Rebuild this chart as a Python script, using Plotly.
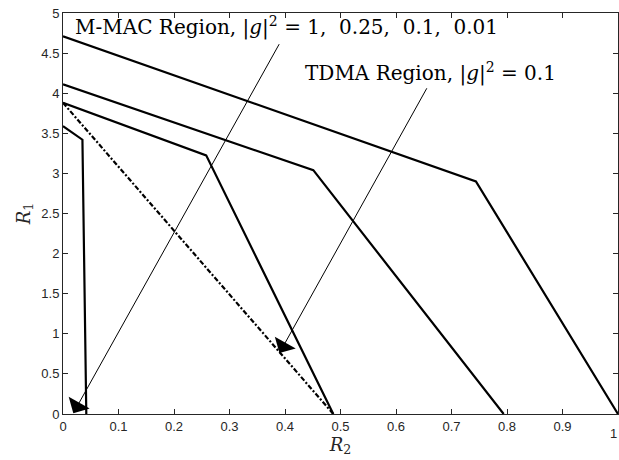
import plotly.graph_objects as go

# Achievable rate regions (R2, R1) for different channel gains |g|^2
r2_g1 = [0.0, 0.744, 1.0]
r1_g1 = [4.71, 2.90, 0.0]

r2_g025 = [0.0, 0.451, 0.794]
r1_g025 = [4.11, 3.04, 0.0]

r2_g01 = [0.0, 0.258, 0.487]
r1_g01 = [3.88, 3.225, 0.0]

r2_g001 = [0.0, 0.035, 0.042]
r1_g001 = [3.59, 3.42, 0.0]

# TDMA (time-sharing) region for |g|^2 = 0.1
r2_tdma = [0.0, 0.487]
r1_tdma = [3.88, 0.0]

x_ticks = [0, 0.1, 0.2, 0.3, 0.4, 0.5, 0.6, 0.7, 0.8, 0.9, 1]
x_tick_text = ["0", "0.1", "0.2", "0.3", "0.4", "0.5", "0.6", "0.7", "0.8", "0.9", "1"]
y_ticks = [0, 0.5, 1, 1.5, 2, 2.5, 3, 3.5, 4, 4.5, 5]
y_tick_text = ["0", "0.5", "1", "1.5", "2", "2.5", "3", "3.5", "4", "4.5", "5"]

fig = go.Figure()

solid = dict(color="black", width=2.2)
for xs, ys in [(r2_g1, r1_g1), (r2_g025, r1_g025), (r2_g01, r1_g01), (r2_g001, r1_g001)]:
    fig.add_trace(go.Scatter(x=xs, y=ys, mode="lines", line=solid, showlegend=False,
                             hoverinfo="skip"))

fig.add_trace(go.Scatter(x=r2_tdma, y=r1_tdma, mode="lines",
                         line=dict(color="black", width=2.2, dash="5px,2px,2px,2px"),
                         showlegend=False, hoverinfo="skip"))

serif = "DejaVu Serif"
ax_color = "#262626"
tick_font = dict(family="Liberation Sans, Arial", size=13, color=ax_color)

annotations = [
    dict(x=0.0175, y=4.83, xref="x", yref="y", xanchor="left", yanchor="middle",
         text="M-MAC Region, |<i>g</i>|<sup>2</sup> = 1,  0.25,  0.1,  0.01",
         showarrow=False, font=dict(family=serif, size=20, color="black")),
    dict(x=0.432, y=4.26, xref="x", yref="y", xanchor="left", yanchor="middle",
         text="TDMA Region, |<i>g</i>|<sup>2</sup> = 0.1",
         showarrow=False, font=dict(family=serif, size=20, color="black")),
    dict(x=0.0186, y=0.01, ax=0.391, ay=4.63, xref="x", yref="y", axref="x", ayref="y",
         text="", showarrow=True, arrowhead=1, arrowsize=4, arrowwidth=1,
         arrowcolor="black"),
    dict(x=0.39, y=0.76, ax=0.657, ay=4.08, xref="x", yref="y", axref="x", ayref="y",
         text="", showarrow=True, arrowhead=1, arrowsize=4, arrowwidth=1,
         arrowcolor="black"),
    # tick label at the right end of the x axis, flush with the page edge
    dict(x=1, y=0, xref="x", yref="paper", yanchor="top", xanchor="right",
         yshift=-10, xshift=1, text="1", showarrow=False, font=tick_font),
]

fig.update_layout(
    width=619, height=460,
    margin=dict(l=63, r=1, t=13, b=46),
    paper_bgcolor="white", plot_bgcolor="white",
    annotations=annotations,
    font=dict(family="Liberation Sans, Arial", size=13, color=ax_color),
)

axis_common = dict(
    showline=True, linecolor=ax_color, linewidth=1, mirror="allticks",
    ticks="inside", ticklen=5, tickwidth=1, tickcolor=ax_color,
    showgrid=False, zeroline=False, tickfont=tick_font,
)

fig.update_xaxes(range=[0, 1], tickvals=x_ticks, ticktext=x_tick_text,
                 title=dict(text="<i>R</i><sub>2</sub>", standoff=2,
                            font=dict(family=serif, size=18, color=ax_color)),
                 **axis_common)
fig.update_yaxes(range=[0, 5], tickvals=y_ticks, ticktext=y_tick_text,
                 title=dict(text="<i>R</i><sub>1</sub>", standoff=6,
                            font=dict(family=serif, size=18, color=ax_color)),
                 **axis_common)

fig.write_html("out.html")
